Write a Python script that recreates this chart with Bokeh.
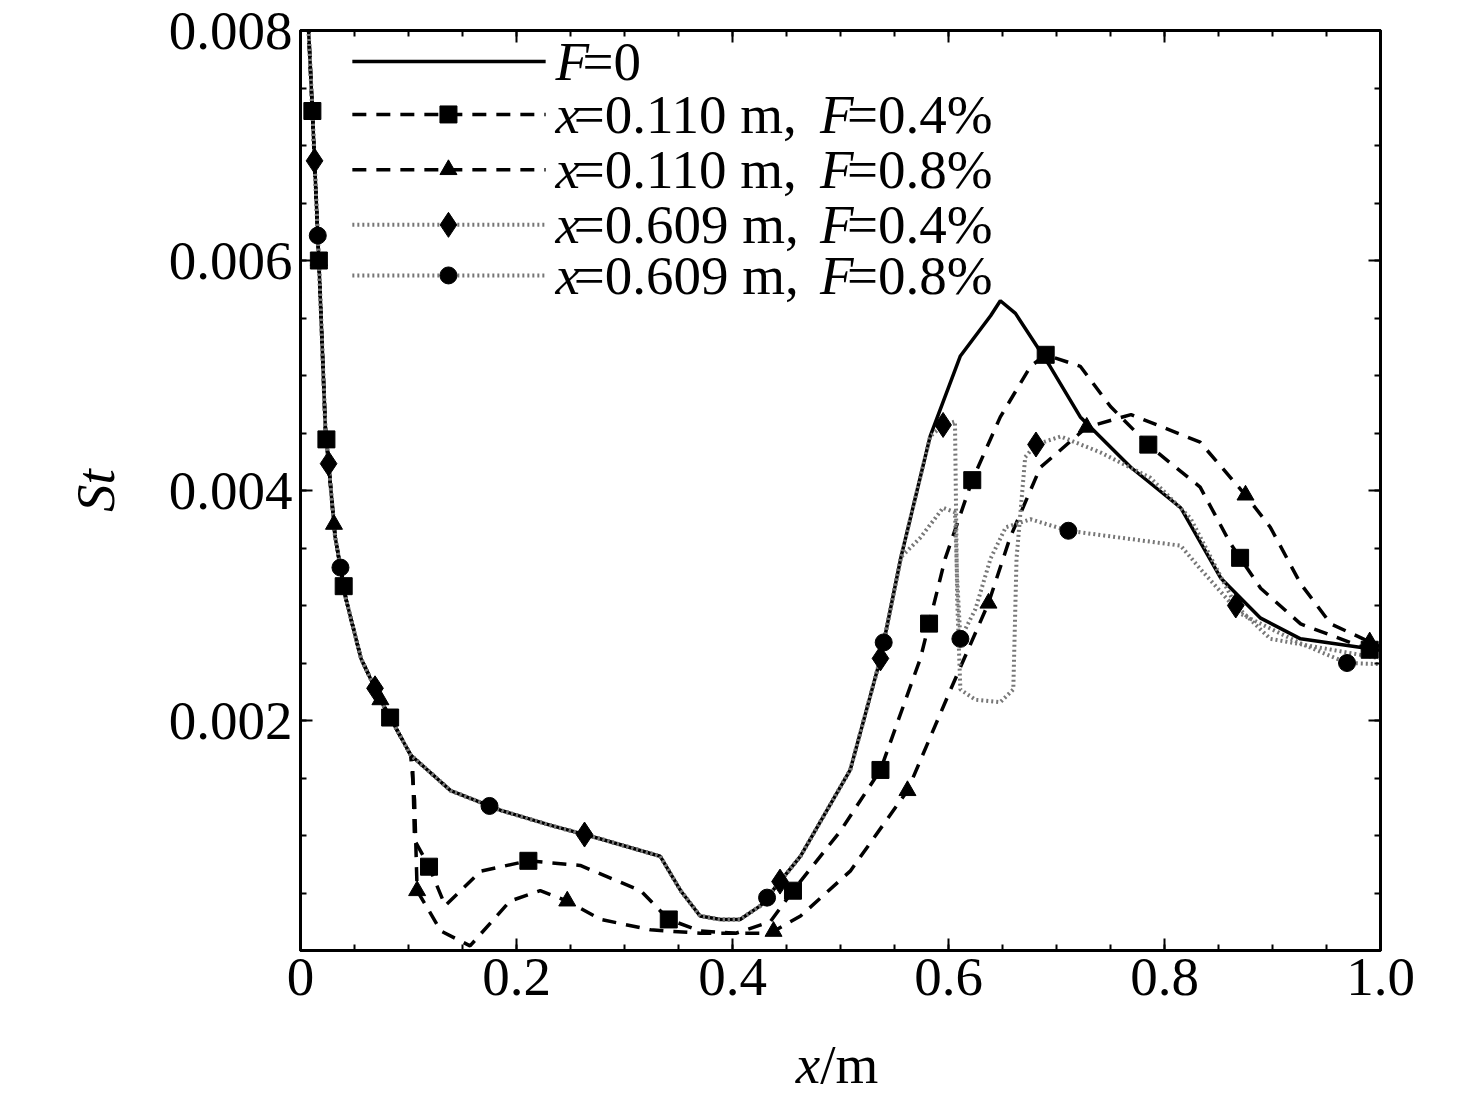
import numpy as np
from bokeh.plotting import figure
from bokeh.models import LinearAxis, FixedTicker, Label, Range1d, Div
from bokeh.layouts import column
from bokeh.embed import file_html
from bokeh.resources import INLINE

base_x = [0.007,0.011,0.017,0.023,0.032,0.042,0.056,0.074,0.102,0.139,0.185,0.231,0.278,0.333,0.352,0.370,0.389,0.407,0.426,0.463,0.509,0.537,0.556,0.583,0.611,0.639,0.648,0.662,0.694,0.722,0.769,0.815,0.852,0.889,0.926,1.0]
base_y = [0.0081,0.0073,0.0060,0.00455,0.0036,0.00306,0.00254,0.00218,0.0017,0.00139,0.00122,0.00109,0.00097,0.00082,0.00052,0.0003,0.00027,0.00027,0.00039,0.00082,0.00157,0.00254,0.00342,0.00447,0.00517,0.00552,0.00565,0.00554,0.00508,0.00464,0.0042,0.00385,0.00324,0.00289,0.00271,0.00261]

b_x = base_x[:9] + [0.1037,0.1056,0.1185,0.134,0.167,0.211,0.259,0.315,0.341,0.370,0.403,0.435,0.456,0.5,0.537,0.574,0.597,0.622,0.648,0.676,0.69,0.722,0.75,0.787,0.833,0.861,0.889,0.926,1.0]
b_y = base_y[:9] + [0.00166,0.00096,0.00074,0.00039,0.00069,0.00078,0.00074,0.00052,0.00027,0.00017,0.00015,0.00025,0.00052,0.00104,0.00157,0.00254,0.00341,0.00409,0.00464,0.00508,0.00518,0.00508,0.00473,0.00438,0.00403,0.00354,0.00315,0.00284,0.00258]

c_x = base_x[:9] + [0.1056,0.108,0.13,0.157,0.194,0.222,0.247,0.278,0.324,0.37,0.435,0.463,0.509,0.562,0.602,0.637,0.657,0.685,0.728,0.769,0.833,0.875,0.898,0.926,0.954,1.0]
c_y = base_y[:9] + [0.00131,0.00052,0.00017,0.00004,0.00043,0.00052,0.00043,0.00027,0.00018,0.00015,0.00015,0.0003,0.00069,0.00139,0.00227,0.00302,0.00359,0.0042,0.00455,0.00466,0.00442,0.00396,0.00368,0.00319,0.00284,0.00264]

d_x = base_x[:24] + [0.595,0.606,0.608,0.611,0.625,0.648,0.66,0.663,0.671,0.681,0.704,0.741,0.787,0.824,0.866,0.898,1.0]
d_y = base_y[:24] + [0.00457,0.0046,0.00306,0.00227,0.00218,0.00216,0.00227,0.00341,0.00429,0.0044,0.00447,0.00433,0.00411,0.00376,0.003,0.00271,0.00254]

e_x = base_x[:23] + [0.574,0.595,0.606,0.608,0.611,0.625,0.639,0.653,0.676,0.711,0.759,0.815,0.833,0.87,0.926,0.969,1.0]
e_y = base_y[:23] + [0.00359,0.00385,0.00381,0.00324,0.00271,0.00297,0.00341,0.00368,0.00375,0.00365,0.00359,0.00352,0.00332,0.00293,0.00267,0.0025,0.00249]

b_mx = [0.011,0.017,0.024,0.040,0.083,0.119,0.211,0.341,0.456,0.537,0.582,0.622,0.69,0.785,0.87,0.99]
c_mx = [0.017,0.031,0.074,0.108,0.247,0.438,0.562,0.637,0.728,0.875,0.99]
d_mx = [0.013,0.026,0.069,0.263,0.444,0.537,0.595,0.681,0.866]
e_mx = [0.016,0.037,0.175,0.432,0.54,0.611,0.711,0.969]

FONT = "Liberation Serif"
FS = "55px"
p = figure(width=1440, height=1030, output_backend="svg", toolbar_location=None,
           x_range=Range1d(0, 1), y_range=Range1d(0, 0.008),
           min_border_left=300, min_border_right=60, min_border_top=30, min_border_bottom=80)
p.grid.visible = False
p.outline_line_color = "black"
p.outline_line_width = 3

xt = FixedTicker(ticks=[0, 0.2, 0.4, 0.6, 0.8, 1.0], minor_ticks=[i * 0.05 for i in range(21)])
yt = FixedTicker(ticks=[0.002, 0.004, 0.006, 0.008], minor_ticks=[i * 0.0005 for i in range(17)])

def style(ax):
    ax.axis_line_width = 3
    ax.major_tick_in = 12
    ax.major_tick_out = 0
    ax.minor_tick_in = 6
    ax.minor_tick_out = 0
    ax.major_tick_line_width = 2
    ax.minor_tick_line_width = 2
    ax.major_label_text_font = FONT
    ax.major_label_text_font_size = FS
    ax.major_label_text_color = "black"
    ax.major_label_standoff = 8

p.xaxis.ticker = xt
p.yaxis.ticker = yt
p.xaxis.major_label_overrides = {0: "0", 0.2: "0.2", 0.4: "0.4", 0.6: "0.6", 0.8: "0.8", 1.0: "1.0"}
p.yaxis.major_label_overrides = {0.002: "0.002", 0.004: "0.004", 0.006: "0.006", 0.008: "0.008"}
style(p.xaxis[0]); style(p.yaxis[0])
p.yaxis.axis_label = "St"
p.yaxis.axis_label_text_font = FONT
p.yaxis.axis_label_text_font_size = FS
p.yaxis.axis_label_text_font_style = "italic"
p.yaxis.axis_label_text_color = "black"
p.yaxis.axis_label_standoff = 40

top = LinearAxis(ticker=xt); style(top)
top.major_label_overrides = {0: "", 0.2: "", 0.4: "", 0.6: "", 0.8: "", 1.0: ""}
p.add_layout(top, "above")
right = LinearAxis(ticker=yt); style(right)
right.major_label_overrides = {0.002: "", 0.004: "", 0.006: "", 0.008: ""}
p.add_layout(right, "right")

ms = 17
p.line(base_x, base_y, line_color="black", line_width=3.5)
p.line(b_x, b_y, line_color="black", line_width=3.5, line_dash="14 10")
p.line(c_x, c_y, line_color="black", line_width=3.5, line_dash="14 10")
p.line(d_x, d_y, line_color="#777777", line_width=4, line_dash="2 3")
p.line(e_x, e_y, line_color="#777777", line_width=4, line_dash="2 3")
p.scatter(b_mx, np.interp(b_mx, b_x, b_y), marker="square", size=ms, color="black")
p.scatter(c_mx, np.interp(c_mx, c_x, c_y), marker="triangle", size=ms, color="black")
p.scatter(d_mx, np.interp(d_mx, d_x, d_y), marker="diamond", size=ms + 8, color="black")
p.scatter(e_mx, np.interp(e_mx, e_x, e_y), marker="circle", size=ms, color="black")

# legend
rows_y = [0.00773, 0.00727, 0.00679, 0.00631, 0.00587]
leg_styles = [("solid", "black", None), ("14 10", "black", "square"), ("14 10", "black", "triangle"),
              ("2 3", "#777777", "diamond"), ("2 3", "#777777", "circle")]
for yy, (dash, col, mk) in zip(rows_y, leg_styles):
    p.line([0.048, 0.227], [yy, yy], line_color=col, line_width=3.5 if col == "black" else 4, line_dash=dash)
    if mk:
        p.scatter([0.137], [yy], marker=mk, size=ms + (8 if mk == "diamond" else 0), color="black")

def lab(x, y, t, italic=False):
    p.add_layout(Label(x=x, y=y, text=t, text_font=FONT, text_font_size=FS,
                       text_font_style="italic" if italic else "normal",
                       text_baseline="middle", text_color="black"))

lab(0.236, rows_y[0], "F", True); lab(0.261, rows_y[0], "=0")
texts = [("0.110", "0.4%"), ("0.110", "0.8%"), ("0.609", "0.4%"), ("0.609", "0.8%")]
for yy, (a, b) in zip(rows_y[1:], texts):
    lab(0.236, yy, "x", True)
    lab(0.253, yy, "=" + a + " m,")
    lab(0.481, yy, "F", True)
    lab(0.506, yy, "=" + b)

xlab = Div(text='<div style="width:1440px;text-align:center;padding-left:224px;box-sizing:border-box;'
                'font-family:Liberation Serif;font-size:55px;line-height:60px;color:black"><i>x</i>/m</div>',
           width=1440, height=62)

open("out.html", "w").write(file_html(column(p, xlab, spacing=0), INLINE))
